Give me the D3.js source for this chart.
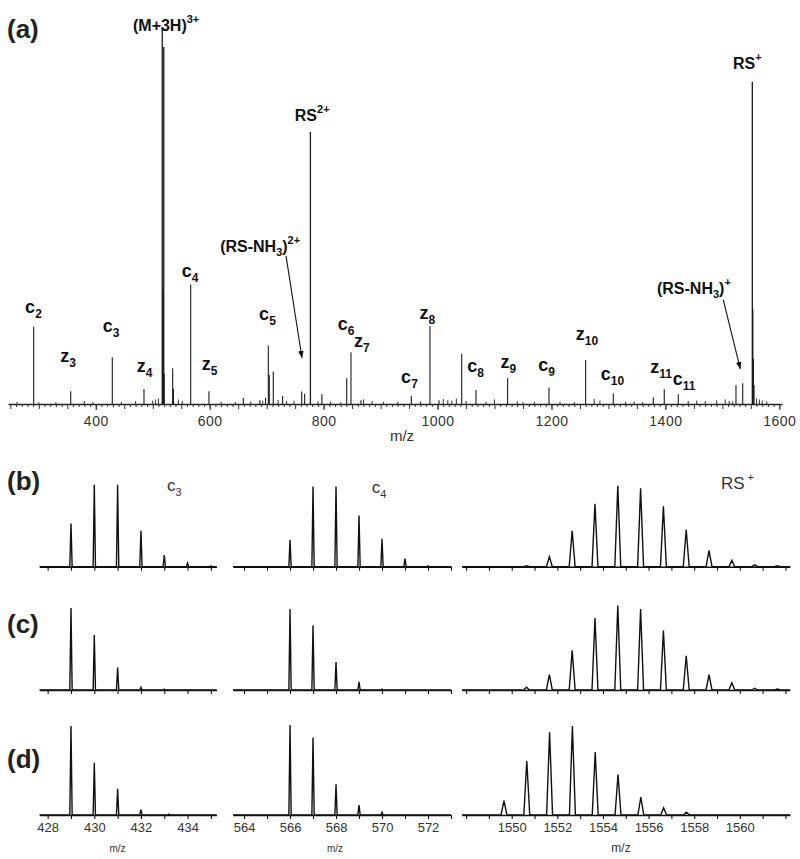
<!DOCTYPE html>
<html><head><meta charset="utf-8">
<script src="https://cdn.jsdelivr.net/npm/d3@7"></script>
<style>
body{margin:0;background:#fff;}
svg{display:block;font-family:"Liberation Sans",Arial,Helvetica,sans-serif;}
</style>
</head><body>
<svg id="chart" width="800" height="859"></svg>
<script>
// ---------------- DATA ----------------
// Panel (a): full MS/MS spectrum (stick peaks)
const topMz  = [291, 356, 429, 484.6, 516.7, 517.6, 518.4, 519.3, 520.2, 535, 536.4, 566.6, 598.7, 659, 688, 698, 702.9, 704.6, 711.6, 728, 761.5, 766.7, 776.8, 797, 840.5, 848, 865.6, 953.9, 986.7, 1002.5, 1042.4, 1067.5, 1123, 1195.6, 1260, 1308.5, 1378.8, 1398, 1422.6, 1523.9, 1535.7, 1552.6, 1553.6, 1554.6, 1555.6];
const topInt = [20.5, 3.4, 12.4, 4, 100, 30, 22, 94.7, 8, 9.5, 4, 31.7, 3.4, 1.6, 1, 1.6, 15.5, 7.7, 8.6, 2.1, 3.3, 2.7, 72.2, 2.6, 6.8, 13.7, 1, 2.2, 20.7, 1, 13.3, 3.7, 6.8, 4.4, 11.7, 2.8, 1.7, 3.9, 2.6, 5, 5.5, 85.5, 25, 12, 5];
const minorMz  = [262,300,330,380,395,445,470,500,505,510,545,552,620,645,672,693,720,735,748,790,812,830,870,885,905,930,970,1010,1018,1025,1033,1050,1085,1100,1140,1150,1170,1215,1240,1275,1285,1330,1345,1360,1440,1455,1470,1490,1505,1512,1518,1560,1565,1570,1578];
const minorInt = [0.6,0.5,0.5,0.8,0.5,0.6,0.8,0.9,1.2,1.5,1.2,0.8,0.6,0.5,0.7,0.9,1.1,0.8,0.9,0.7,0.6,0.5,1.2,0.8,0.6,0.5,0.7,1.3,1.0,0.9,1.4,0.8,0.6,1.2,0.7,0.5,0.6,0.6,0.5,1.3,0.9,0.6,0.7,0.5,0.8,0.9,0.8,1.0,1.2,0.8,0.7,1.5,1.2,0.9,0.7];
const topTicks = [400, 600, 800, 1000, 1200, 1400, 1600];

// fragment ion labels (anchored in data coordinates m/z, intensity)
const ionLetter = ['c','z','c','z','c','z','c','c','z','c','z','c','z','c','z','c','z','c'];
const ionIndex  = ['2','3','3','4','4','5','5','6','7','7','8','8','9','9','10','10','11','11'];
const ionLabMz  = [290.6,351.2,426.7,485.5,565.4,599.6,701.4,839.3,867.3,950.7,982.3,1066.6,1124.5,1191.3,1262.4,1307.1,1392.3,1432.7];
const ionLabInt = [24.1,11.1,19.1,8.5,33.7,9.0,22.3,19.6,15.1,5.6,22.5,8.5,9.5,8.8,17.0,6.4,8.2,5.0];

// species labels
const speciesSegs = [
  [['(M+3H)',''],['3+','sup']],
  [['RS',''],['2+','sup']],
  [['RS',''],['+','sup']],
  [['(RS-NH',''],['3','sub'],[')',''],['2+','sup']],
  [['(RS-NH',''],['3','sub'],[')',''],['+','sup']]
];
const speciesMz  = [465.3, 749.4, 1518.6, 618.3, 1385.2];
const speciesInt = [98.9, 75.1, 88.9, 40.3, 29.2];
const arrowFromMz = [734, 1501.6], arrowFromInt = [39.3, 27.6];
const arrowToMz   = [762, 1531.5], arrowToInt   = [12.2, 9.3];

// Panels (b)-(d): isotope clusters of c3, c4 and RS+
const rowNames = ['(b)', '(c)', '(d)'];
const c3Mz_b = [429,430,431,432,433,434,435], c3Int_b = [48,91,91,40,13,4,1];
const c3Mz_c = [429,430,431,432,433],         c3Int_c = [91,61,25,3,1];
const c3Mz_d = [429,430,431,432,433.2],       c3Int_d = [99,58,29,6,1];
const c4Mz_b = [566,567,568,569,570,571,572], c4Int_b = [30,89,89,57,31,9,1];
const c4Mz_c = [566,567,568,569,570],         c4Int_c = [90,72,31,9,1];
const c4Mz_d = [566,567,568,569,570],         c4Int_d = [100,86,34,11,3];
const rsMz_bc = [1550.65,1551.65,1552.65,1553.65,1554.65,1555.65,1556.65,1557.65,1558.65,1559.65,1560.65,1561.65];
const rsInt_b = [1,11,40,70,90,87,67,41,18,7,2,1];
const rsInt_c = [3,17,44,80,94,90,66,38,17,8,2,1];
const rsMz_d  = [1549.66,1550.66,1551.66,1552.66,1553.66,1554.66,1555.66,1556.66,1557.66];
const rsInt_d = [16,60,92,99,70,45,20,8,3];
const colDomains = [[427.65, 435.24], [563.52, 573.0], [1547.82, 1562.2]];
const colLabels = [[['c',''],['3','sub']], [['c',''],['4','sub']], [['RS',''],[' +','sup']]];
const colLabelMz = [433.12, 569.55, 1559.17];
const colLabelInt = [84.4, 82.2, 86];

// ---------------- DRAW ----------------
const svg = d3.select('#chart');
svg.append('rect').attr('width',800).attr('height',859).attr('fill','#fff');

function addSegs(text, segs, base, supSize, subSize, supDy, subDy) {
  let off = 0;
  segs.forEach(([s, kind]) => {
    const t = text.append('tspan').text(s);
    let target = 0;
    if (kind === 'sup') { target = -supDy; t.attr('font-size', supSize); }
    else if (kind === 'sub') { target = subDy; t.attr('font-size', subSize); }
    else { t.attr('font-size', base); }
    t.attr('dy', target - off);
    off = target;
  });
}

// ---- Panel (a)
const xT = d3.scaleLinear().domain([245.9, 1604.7]).range([8, 782]);
const yT = d3.scaleLinear().domain([0, 100]).range([404, 27]);
const gA = svg.append('g');

const minorData = minorMz.map((m,i)=>[m, minorInt[i]]);
const topData = topMz.map((m,i)=>[m, topInt[i]]);
gA.append('g').selectAll('line').data(minorData).join('line')
  .attr('x1', d=>xT(d[0])).attr('x2', d=>xT(d[0]))
  .attr('y1', yT(0)).attr('y2', d=>yT(d[1]))
  .attr('stroke', '#333').attr('stroke-width', 1);
gA.append('g').selectAll('line').data(topData).join('line')
  .attr('x1', d=>xT(d[0])).attr('x2', d=>xT(d[0]))
  .attr('y1', yT(0)).attr('y2', d=>yT(d[1]))
  .attr('stroke', '#1a1a1a').attr('stroke-width', d=> d[1] > 50 ? 1.3 : 1.1);

// axis
const axMinor = gA.append('g').attr('transform', `translate(0,${yT(0)})`)
  .call(d3.axisBottom(xT).tickValues(d3.range(250, 1601, 10)).tickSize(3).tickSizeOuter(0).tickFormat(''));
axMinor.select('.domain').attr('stroke', '#222').attr('stroke-width', 1.3);
axMinor.selectAll('.tick line').attr('stroke', '#333').attr('y2', d => d % 50 === 0 ? 5 : 3);
const axMajor = gA.append('g').attr('transform', `translate(0,${yT(0)})`)
  .call(d3.axisBottom(xT).tickValues(topTicks).tickSize(6).tickPadding(6).tickSizeOuter(0)
    .tickFormat(d3.format('d')));
axMajor.select('.domain').remove();
axMajor.selectAll('.tick line').attr('stroke', '#333');
axMajor.selectAll('.tick text').attr('font-size', 14).attr('fill', '#333')
  .attr('font-family', '"Liberation Sans",Arial,sans-serif').attr('letter-spacing', '0.5px');
gA.append('text').attr('x', 402).attr('y', 441).attr('text-anchor','middle')
  .attr('font-size', 15).attr('fill', '#333').text('m/z');

// ion labels
ionLetter.forEach((L, i) => {
  const t = gA.append('text').attr('x', xT(ionLabMz[i])).attr('y', yT(ionLabInt[i]))
    .attr('text-anchor', 'middle').attr('font-weight', 'bold').attr('fill', '#111');
  addSegs(t, [[L,''],[ionIndex[i],'sub']], 18, 12, 12, 7, 5);
});

// species labels
speciesSegs.forEach((segs, i) => {
  const t = gA.append('text').attr('x', xT(speciesMz[i])).attr('y', yT(speciesInt[i]))
    .attr('fill', '#111').attr('font-weight', 'bold');
  addSegs(t, segs, 16, 11, 11, 8, 4);
});

// arrows
svg.append('defs').append('marker').attr('id','ah').attr('viewBox','0 0 10 10')
  .attr('refX', 10).attr('refY', 5).attr('markerWidth', 7).attr('markerHeight', 7)
  .attr('markerUnits','userSpaceOnUse').attr('orient','auto')
  .append('path').attr('d','M0,1 L10,5 L0,9 Z').attr('fill','#111');
arrowFromMz.forEach((m, i) => {
  gA.append('line').attr('x1', xT(m)).attr('y1', yT(arrowFromInt[i]))
    .attr('x2', xT(arrowToMz[i])).attr('y2', yT(arrowToInt[i]))
    .attr('stroke', '#111').attr('stroke-width', 1.1).attr('marker-end', 'url(#ah)');
});

gA.append('text').attr('x', 7).attr('y', 37.5).attr('font-size', 26).attr('font-weight','bold')
  .attr('fill','#222').text('(a)');

// ---- Panels (b)-(d)
const rowBase = [566.7, 690, 815];
const colRange = [[39.5, 216.5], [233, 451], [462, 790]];
const halfW = [0.05, 0.05, 0.13];
const panelData = [
  [[c3Mz_b, c3Int_b], [c4Mz_b, c4Int_b], [rsMz_bc, rsInt_b]],
  [[c3Mz_c, c3Int_c], [c4Mz_c, c4Int_c], [rsMz_bc, rsInt_c]],
  [[c3Mz_d, c3Int_d], [c4Mz_d, c4Int_d], [rsMz_d, rsInt_d]]
];
const rowLabelY = [490, 632.5, 768];

panelData.forEach((row, r) => {
  const yS = d3.scaleLinear().domain([0, 100]).range([rowBase[r], rowBase[r] - 90]);
  svg.append('text').attr('x', 7).attr('y', rowLabelY[r]).attr('font-size', 26)
    .attr('font-weight','bold').attr('fill','#222').text(rowNames[r]);
  row.forEach(([mz, it], c) => {
    const xS = d3.scaleLinear().domain(colDomains[c]).range(colRange[c]);
    const g = svg.append('g');
    const tv = d3.range(Math.ceil(colDomains[c][0]), Math.floor(colDomains[c][1]) + 1);
    const ax = g.append('g').attr('transform', `translate(0,${rowBase[r]})`)
      .call(d3.axisBottom(xS).tickValues(tv).tickSize(4).tickPadding(4).tickSizeOuter(0)
        .tickFormat(d => {
          if (r !== 2 || d % 2 !== 0) return '';
          if (c === 2 && (d < 1550 || d > 1560)) return '';
          return d;
        }));
    ax.select('.domain').attr('stroke', '#111').attr('stroke-width', 1.4);
    ax.selectAll('.tick line').attr('stroke', '#111').attr('stroke-width', 1.1);
    ax.selectAll('.tick text').attr('font-size', 13).attr('fill', '#333')
      .attr('font-family', '"Liberation Sans",Arial,sans-serif');
    const pts = [[colDomains[c][0], 0]];
    mz.forEach((m, i) => { pts.push([m - halfW[c], 0], [m, it[i]], [m + halfW[c], 0]); });
    pts.push([colDomains[c][1], 0]);
    g.append('path').datum(pts)
      .attr('d', d3.line().x(d => xS(d[0])).y(d => yS(d[1])))
      .attr('fill', 'none').attr('stroke', '#111').attr('stroke-width', 1.4)
      .attr('stroke-linejoin', 'miter');
    if (r === 0) {
      const t = g.append('text').attr('x', xS(colLabelMz[c])).attr('y', yS(colLabelInt[c]))
        .attr('fill', '#333');
      addSegs(t, colLabels[c], 17, 11, 11, 8, 5);
    }
    if (r === 2) {
      const mzX = [117.5, 335, 621][c];
      g.append('text').attr('x', mzX).attr('y', 852).attr('text-anchor','middle')
        .attr('font-size', c === 2 ? 12 : 10).attr('fill','#333').text('m/z');
    }
  });
});
</script>
</body></html>
